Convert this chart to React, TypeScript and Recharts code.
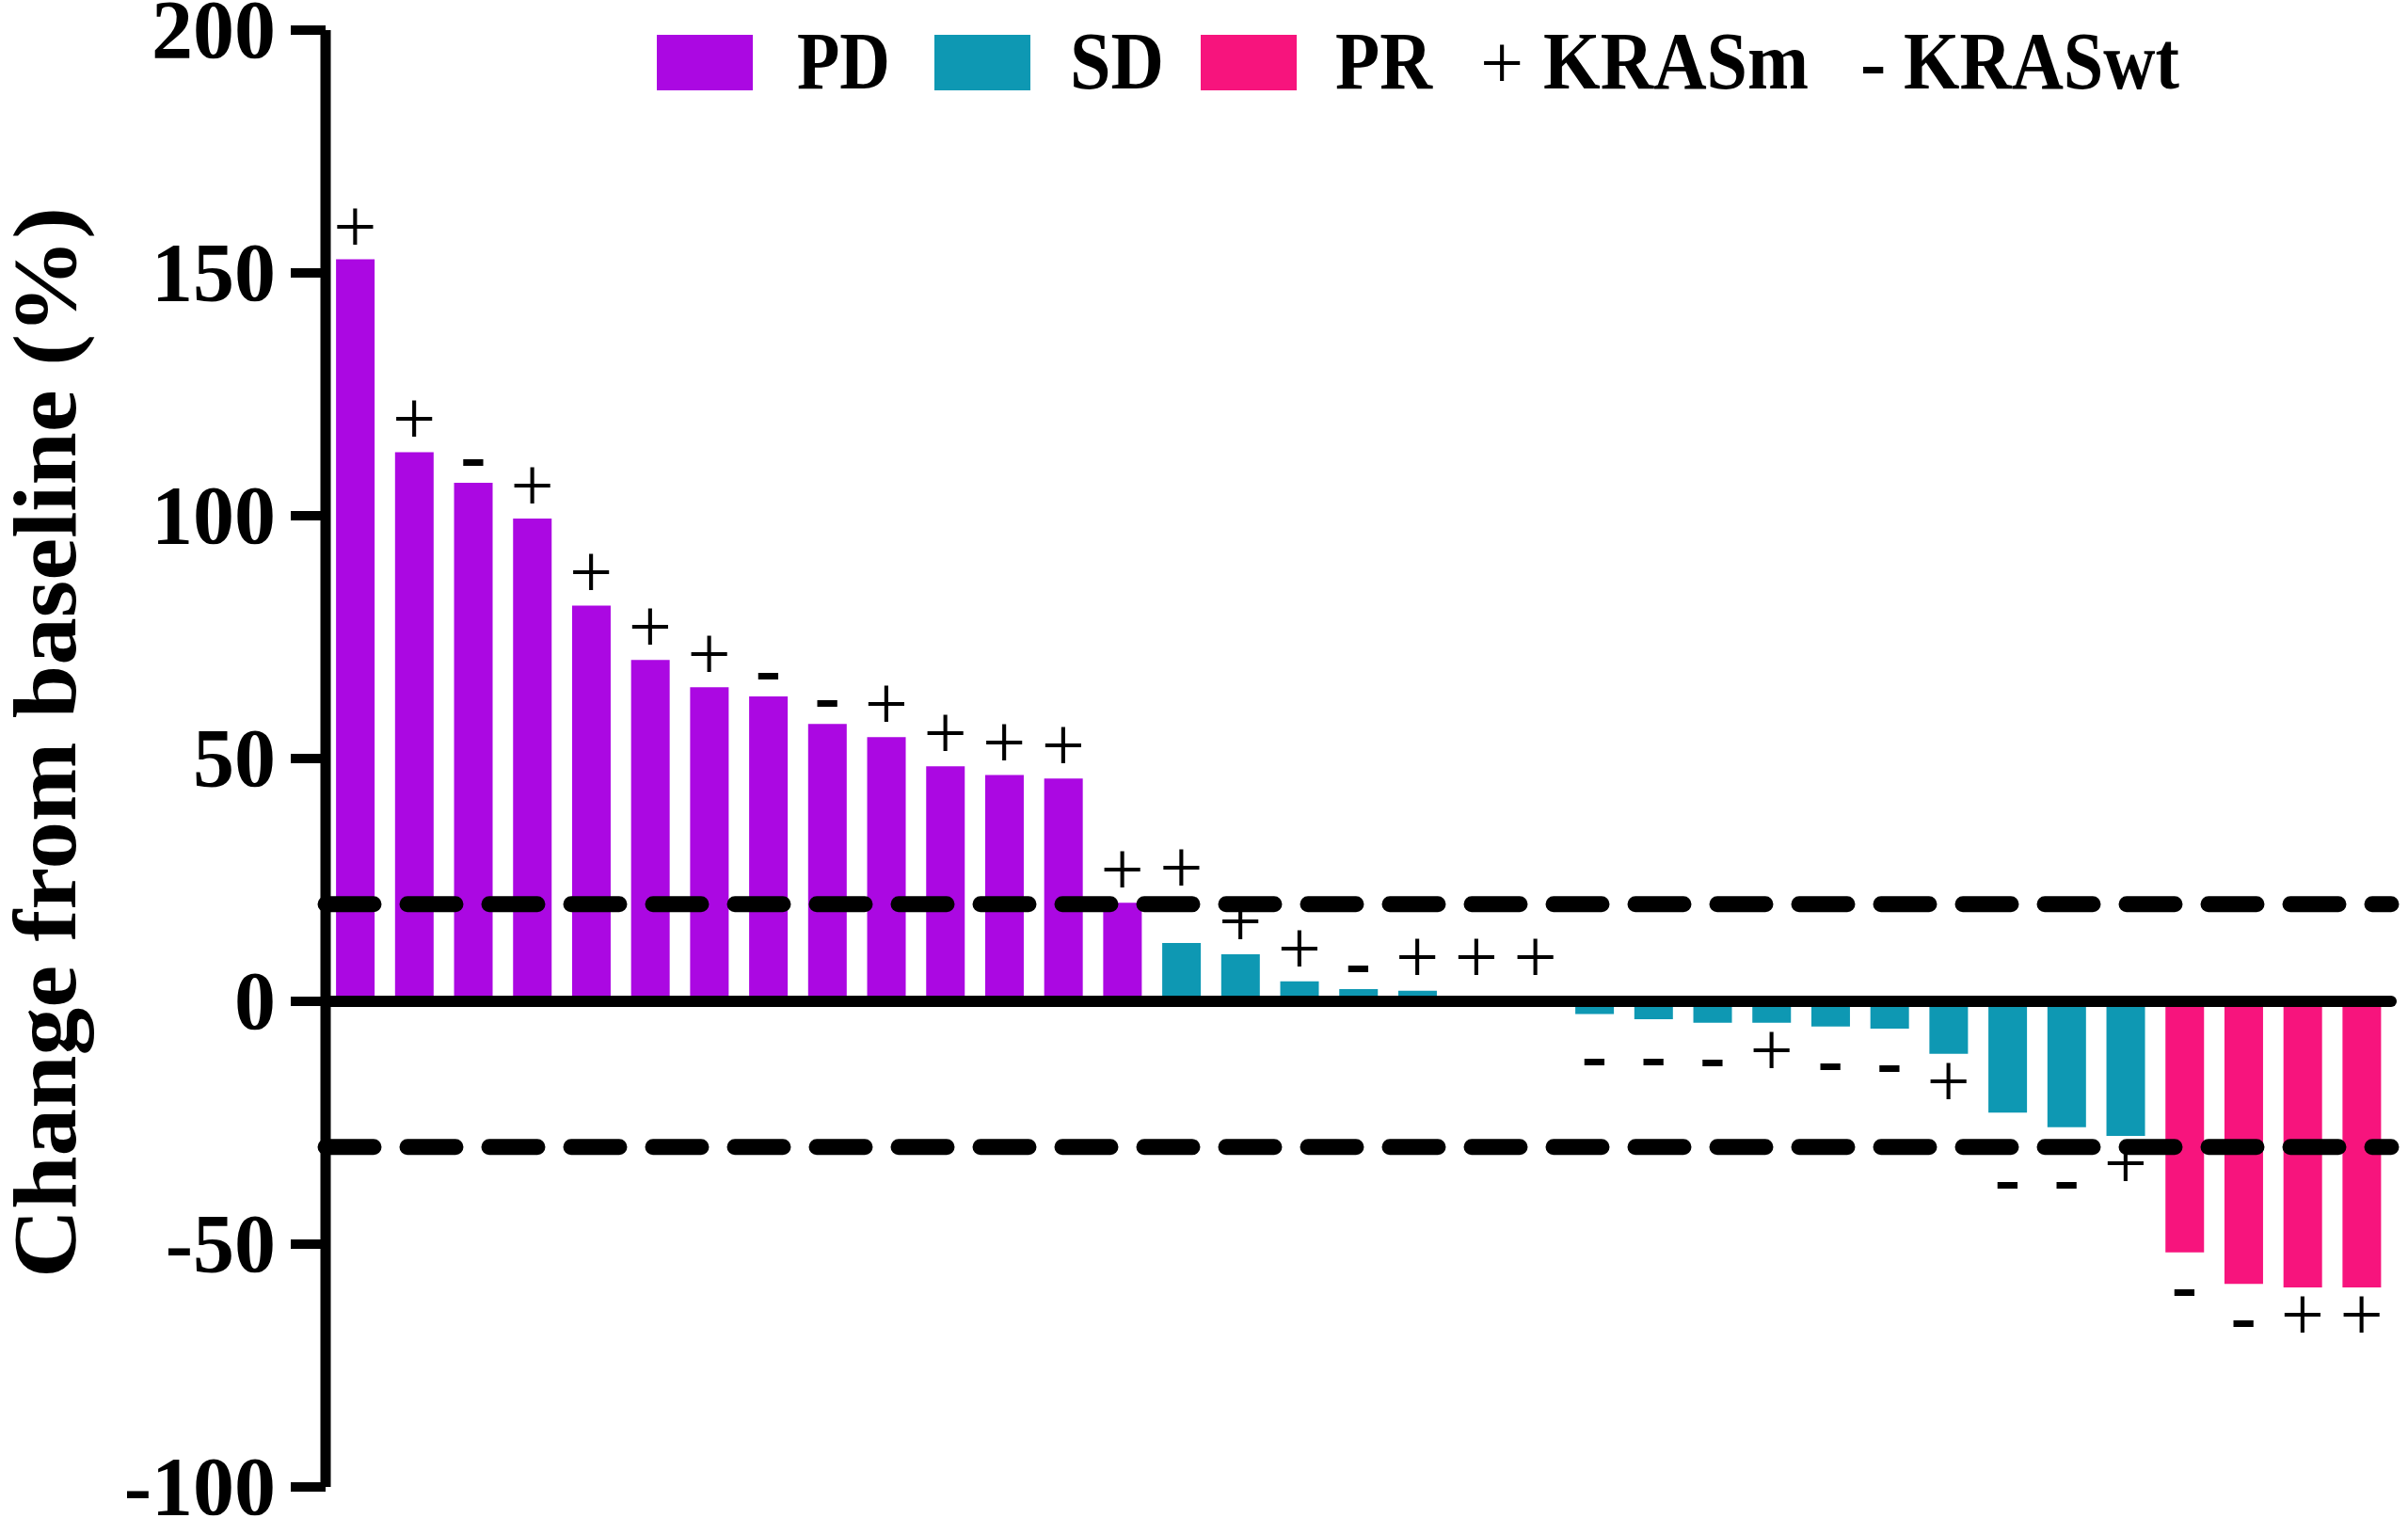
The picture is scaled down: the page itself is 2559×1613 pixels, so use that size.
import React from "react";
import {
  ComposedChart,
  Bar,
  Scatter,
  XAxis,
  YAxis,
  Cell,
  ReferenceLine,
  Customized,
} from "recharts";

// ── Data ────────────────────────────────────────────────────────────────
const changes = [
  152.8, 113.1, 106.8, 99.4, 81.5, 70.3, 64.7, 62.8, 57.1, 54.4, 48.4, 46.6,
  45.9, 20.3, 12.0, 9.7, 4.1, 2.5, 2.2, 0, 0, -2.6, -3.7, -4.4, -4.4, -5.2,
  -5.6, -10.8, -22.9, -25.9, -27.7, -51.7, -58.2, -58.9, -58.9,
];

const responses = [
  "PD", "PD", "PD", "PD", "PD", "PD", "PD", "PD", "PD", "PD", "PD", "PD", "PD", "PD",
  "SD", "SD", "SD", "SD", "SD", "SD", "SD", "SD", "SD", "SD", "SD", "SD", "SD", "SD",
  "SD", "SD", "SD",
  "PR", "PR", "PR", "PR",
];

const krasStatus = [
  "+", "+", "-", "+", "+", "+", "+", "-", "-", "+", "+", "+", "+", "+",
  "+", "+", "+", "-", "+", "+", "+",
  "-", "-", "-", "+", "-", "-", "+", "-", "-", "+",
  "-", "-", "+", "+",
];

const yTicks = [-100, -50, 0, 50, 100, 150, 200];
const thresholds = [20, -30];

const responseColors: Record<string, string> = {
  PD: "#AB08E2",
  SD: "#0E98B3",
  PR: "#F7147D",
};

const legendItems = ["PD", "SD", "PR"];

const data = changes.map((value, i) => ({
  id: `P${i + 1}`,
  value,
  response: responses[i],
  kras: krasStatus[i],
}));

// ── Layout ──────────────────────────────────────────────────────────────
const W = 2559;
const H = 1613;
const MARGIN = { top: 32, right: 18, bottom: 33, left: 0 };
const AXIS_W = 346;
const SERIF = "'Liberation Serif', 'Times New Roman', serif";

const plotTop = MARGIN.top;
const plotBottom = H - MARGIN.bottom;
const yPx = (v: number) => plotTop + ((200 - v) / 300) * (plotBottom - plotTop);

// ── KRAS marks above / below bars ───────────────────────────────────────
function KrasMark(props: any) {
  const { cx, cy, payload } = props;
  if (cx == null || cy == null || !payload) return null;
  const zero = yPx(0);
  let center: number;

  if (payload.value >= 0) {
    center = Math.min(cy - 28, zero - 40);
    const line = yPx(thresholds[0]);
    // lift marks that would sit on the dashed cut-off line
    if (Math.abs(center - line) < 18) center = line - 32;
  } else {
    center = Math.max(cy + 36, zero + 58);
    const line = yPx(thresholds[1]);
    if (Math.abs(center - line) < 18) center = line + 34;
  }

  const baseline = center + 20;
  const minus = payload.kras === "-";
  return (
    <text
      x={cx}
      y={minus ? baseline + 6 : baseline}
      textAnchor="middle"
      fontFamily={SERIF}
      fontSize={82}
      fontWeight={minus ? 700 : 400}
      fill="#000"
    >
      {payload.kras}
    </text>
  );
}

function YTick(props: any) {
  const { x, y, payload } = props;
  return (
    <text
      x={x}
      y={y}
      dy={29}
      textAnchor="end"
      fontFamily={SERIF}
      fontSize={88}
      fontWeight={700}
      fill="#000"
    >
      {payload.value}
    </text>
  );
}

// ── Legend + axis title ─────────────────────────────────────────────────
function Decorations() {
  const swatchX = [698, 993, 1276];
  const textX = [847, 1137, 1419];
  const textLen = [99, 100, 103];
  return (
    <g fontFamily={SERIF} fill="#000">
      {legendItems.map((k, i) => (
        <g key={k}>
          <rect x={swatchX[i]} y={37} width={102} height={59} fill={responseColors[k]} />
          <text
            x={textX[i]}
            y={94}
            fontSize={86}
            fontWeight={700}
            textLength={textLen[i]}
            lengthAdjust="spacingAndGlyphs"
          >
            {k}
          </text>
        </g>
      ))}
      <text x={1573} y={94} fontSize={82} fontWeight={400}>+</text>
      <text x={1640} y={94} fontSize={86} fontWeight={700} textLength={282} lengthAdjust="spacingAndGlyphs">
        KRASm
      </text>
      <text x={1977} y={94} fontSize={82} fontWeight={700}>-</text>
      <text x={2023} y={94} fontSize={86} fontWeight={700} textLength={293} lengthAdjust="spacingAndGlyphs">
        KRASwt
      </text>
      <text
        x={80}
        y={789}
        transform="rotate(-90, 80, 789)"
        textAnchor="middle"
        fontSize={95}
        fontWeight={700}
        textLength={1138}
        lengthAdjust="spacingAndGlyphs"
      >
        Change from baseline (%)
      </text>
    </g>
  );
}

export default function App() {
  return (
    <div style={{ width: W, height: H, background: "#fff" }}>
      <style>{`body{margin:0;background:#fff}`}</style>
      <ComposedChart width={W} height={H} data={data} margin={MARGIN} barCategoryGap="17.7%">
        <XAxis dataKey="id" hide />
        <YAxis
          width={AXIS_W}
          domain={[-100, 200]}
          ticks={yTicks}
          interval={0}
          allowDataOverflow
          axisLine={{ stroke: "#000", strokeWidth: 11 }}
          tickLine={{ stroke: "#000", strokeWidth: 10 }}
          tickSize={37}
          tickMargin={16}
          tick={<YTick />}
        />
        {thresholds.map((t) => (
          <ReferenceLine
            key={t}
            y={t}
            stroke="#000"
            strokeWidth={17}
            strokeDasharray="51 36"
            strokeLinecap="round"
          />
        ))}
        <Bar dataKey="value" isAnimationActive={false}>
          {data.map((d, i) => (
            <Cell key={`cell-${i}`} fill={responseColors[d.response]} />
          ))}
        </Bar>
        <ReferenceLine y={0} stroke="#000" strokeWidth={12} strokeLinecap="round" />
        <Scatter dataKey="value" isAnimationActive={false} shape={<KrasMark />} legendType="none" />
        <Customized component={<Decorations />} />
      </ComposedChart>
    </div>
  );
}
